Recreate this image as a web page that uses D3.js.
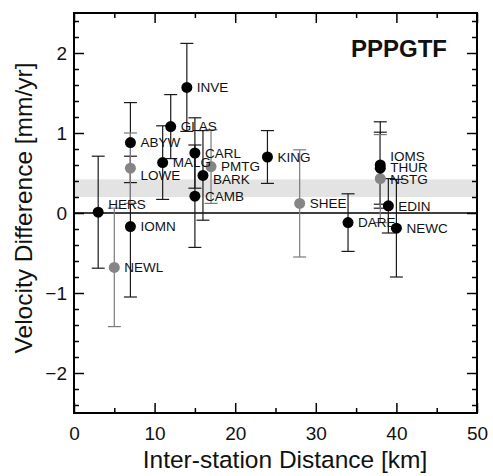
<!DOCTYPE html>
<html>
<head>
<meta charset="utf-8">
<script src="https://cdnjs.cloudflare.com/ajax/libs/d3/7.8.5/d3.min.js"></script>
<style>
  body { margin: 0; background: #fff; }
  text { font-family: "Liberation Sans", Arial, sans-serif; }
</style>
</head>
<body>
<div id="chart"></div>
<script>
// station pairs: inter-station distance [km], velocity difference [mm/yr], uncertainty
const stations = ["HERS", "NEWL", "IOMN", "ABYW", "LOWE", "MALG", "GLAS", "INVE", "CARL", "CAMB",
                  "BARK", "PMTG", "KING", "SHEE", "DARE", "IOMS", "THUR", "NSTG", "EDIN", "NEWC"];
const distance = [3, 5, 7, 7, 7, 11, 12, 14, 15, 15, 16, 17, 24, 28, 34, 38, 38, 38, 39, 40];
const velDiff  = [0.01, -0.68, -0.17, 0.88, 0.56, 0.63, 1.08, 1.57, 0.75, 0.21,
                  0.47, 0.58, 0.70, 0.12, -0.12, 0.60, 0.56, 0.43, 0.09, -0.19];
const velErr   = [0.70, 0.74, 0.88, 0.50, 0.44, 0.46, 0.40, 0.55, 0.44, 0.64,
                  0.56, 0.46, 0.33, 0.67, 0.36, 0.54, 0.45, 0.55, 0.34, 0.61];
const grey     = [false, true, false, false, true, false, false, false, false, false,
                  false, true, false, true, false, false, false, true, false, false];
const band = [0.2, 0.42];
const xTicks = [0, 10, 20, 30, 40, 50];
const yTicks = [-2, -1, 0, 1, 2];

const W = 493, H = 476;
const margin = { top: 13, right: 16, bottom: 63, left: 74 };
const width = W - margin.left - margin.right;
const height = H - margin.top - margin.bottom;

const data = stations.map((s, i) => ({
    name: s, x: distance[i], y: velDiff[i], e: velErr[i], grey: grey[i]
}));

// label nudges so the names don't sit on top of each other
const labelDy = { HERS: -8, LOWE: 7, BARK: 4, IOMS: -9, THUR: -1, NSTG: 1 };

const svg = d3.select("#chart").append("svg")
    .attr("width", W)
    .attr("height", H);

const g = svg.append("g")
    .attr("transform", `translate(${margin.left},${margin.top})`);

const x = d3.scaleLinear().domain([0, 50]).range([0, width]);
const y = d3.scaleLinear().domain([-2.5, 2.5]).range([height, 0]);

// shaded band
g.append("rect")
    .attr("x", 0)
    .attr("width", width)
    .attr("y", y(band[1]))
    .attr("height", y(band[0]) - y(band[1]))
    .attr("fill", "#e3e3e3");

// zero line
g.append("line")
    .attr("x1", 0).attr("x2", width)
    .attr("y1", y(0)).attr("y2", y(0))
    .attr("stroke", "#000")
    .attr("stroke-width", 1.3);

// axes: ticks inward, mirrored on all sides
const xMinor = d3.range(5, 50, 10);
const yMinor = d3.range(-2.4, 2.41, 0.2).filter(v => Math.abs(v - Math.round(v)) > 0.01);

function xAxis(gen, major) {
    return gen(x).tickValues(major ? xTicks : xMinor).tickSize(major ? -10 : -5);
}
function yAxis(gen, major) {
    return gen(y).tickValues(major ? yTicks : yMinor).tickSize(major ? -10 : -5);
}

const axes = g.append("g").attr("class", "axes");
[true, false].forEach(major => {
    axes.append("g").attr("class", "xb").attr("transform", `translate(0,${height})`)
        .call(xAxis(d3.axisBottom, major).tickFormat(major ? d3.format("d") : ""));
    axes.append("g")
        .call(xAxis(d3.axisTop, major).tickFormat(""));
    axes.append("g").attr("class", "yl")
        .call(yAxis(d3.axisLeft, major).tickFormat(major ? d3.format("d") : ""));
    axes.append("g").attr("transform", `translate(${width},0)`)
        .call(yAxis(d3.axisRight, major).tickFormat(""));
});
axes.selectAll(".domain").remove();
axes.selectAll(".tick line").attr("stroke", "#000").attr("stroke-width", 1.5);
axes.selectAll(".tick text")
    .attr("fill", "#111")
    .style("font-size", "19px")
    .style("font-family", "'Liberation Sans', Arial, sans-serif");
axes.selectAll(".xb .tick text").attr("y", 14);
axes.selectAll(".yl .tick text").attr("x", -7);

// error bars
const cap = 6.5;
const bars = g.append("g").selectAll("g")
    .data(data)
    .join("g")
    .attr("stroke", d => d.grey ? "#7a7a7a" : "#1a1a1a")
    .attr("stroke-width", 1.2);
bars.append("line")
    .attr("x1", d => x(d.x)).attr("x2", d => x(d.x))
    .attr("y1", d => y(d.y + d.e)).attr("y2", d => y(d.y - d.e));
bars.append("line")
    .attr("x1", d => x(d.x) - cap).attr("x2", d => x(d.x) + cap)
    .attr("y1", d => y(d.y + d.e)).attr("y2", d => y(d.y + d.e));
bars.append("line")
    .attr("x1", d => x(d.x) - cap).attr("x2", d => x(d.x) + cap)
    .attr("y1", d => y(d.y - d.e)).attr("y2", d => y(d.y - d.e));

// points (grey ones first so black sit on top)
g.append("g").selectAll("circle")
    .data(data.slice().sort((a, b) => b.grey - a.grey))
    .join("circle")
    .attr("cx", d => x(d.x))
    .attr("cy", d => y(d.y))
    .attr("r", 5.5)
    .attr("fill", d => d.grey ? "#858585" : "#000");

// station labels
g.append("g").selectAll("text")
    .data(data)
    .join("text")
    .attr("x", d => x(d.x) + 10)
    .attr("y", d => y(d.y) + (labelDy[d.name] || 0))
    .attr("dy", "0.36em")
    .attr("fill", "#111")
    .style("font-size", "13.5px")
    .text(d => d.name);

// frame
g.append("rect")
    .attr("width", width)
    .attr("height", height)
    .attr("fill", "none")
    .attr("stroke", "#000")
    .attr("stroke-width", 2);

// panel title
g.append("text")
    .attr("x", width - 30)
    .attr("y", 44)
    .attr("text-anchor", "end")
    .style("font-size", "24px")
    .style("font-weight", "bold")
    .attr("fill", "#111")
    .text("PPPGTF");

// axis titles
svg.append("text")
    .attr("x", 285)
    .attr("y", 468)
    .attr("text-anchor", "middle")
    .style("font-size", "24.5px")
    .attr("fill", "#111")
    .text("Inter-station Distance [km]");

svg.append("text")
    .attr("transform", "translate(32,208) rotate(-90)")
    .attr("text-anchor", "middle")
    .style("font-size", "24.5px")
    .attr("fill", "#111")
    .text("Velocity Difference [mm/yr]");
</script>
</body>
</html>
